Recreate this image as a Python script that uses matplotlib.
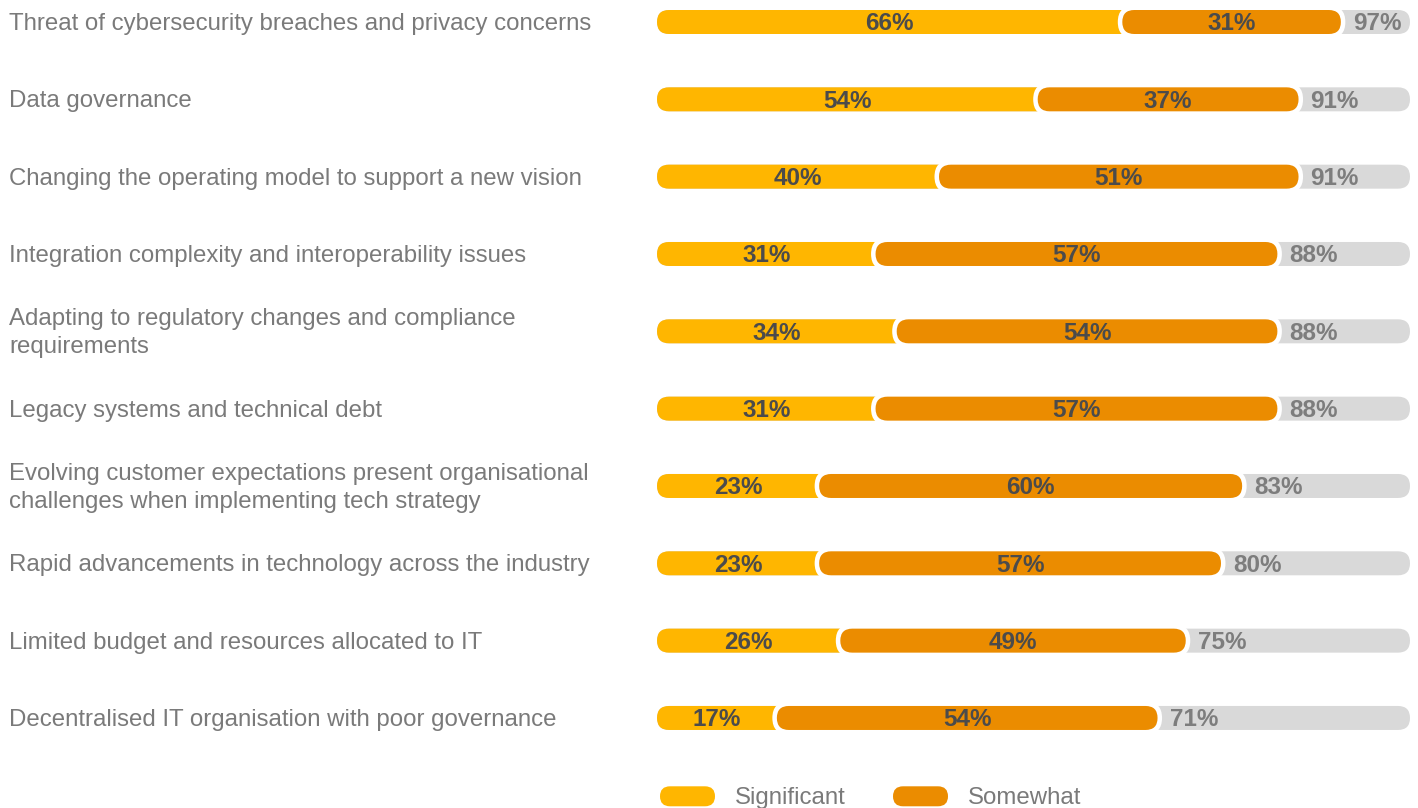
import matplotlib
matplotlib.use("Agg")
import matplotlib.pyplot as plt
from matplotlib.patches import FancyBboxPatch
from matplotlib.transforms import blended_transform_factory

plt.rcParams['font.family'] = ['Liberation Sans', 'DejaVu Sans']

challenges = [
    "Threat of cybersecurity breaches and privacy concerns",
    "Data governance",
    "Changing the operating model to support a new vision",
    "Integration complexity and interoperability issues",
    "Adapting to regulatory changes and compliance\nrequirements",
    "Legacy systems and technical debt",
    "Evolving customer expectations present organisational\nchallenges when implementing tech strategy",
    "Rapid advancements in technology across the industry",
    "Limited budget and resources allocated to IT",
    "Decentralised IT organisation with poor governance",
]
significant = [66, 54, 40, 31, 34, 31, 23, 23, 26, 17]
somewhat = [31, 37, 51, 57, 54, 57, 60, 57, 49, 54]
totals = [97, 91, 91, 88, 88, 88, 83, 80, 75, 71]

YELLOW = '#FFB600'
ORANGE = '#EB8C00'
GREY = '#D9D9D9'
DARK = '#4B4B4B'
MID = '#7D7D7D'
LABEL = '#7A7A7A'

W, H, DPI = 1418, 808, 100
fig = plt.figure(figsize=(W / DPI, H / DPI), dpi=DPI)

# bar area: 0% sits at x=657px, the grey track runs out to x=1410px
px_per_pct = 7.05
row_px = 77.33
x_left, x_right = 657, 1410
xmax = (x_right - x_left) / px_per_pct
ax = fig.add_axes([x_left / W, 0, (x_right - x_left) / W, 1])
ax.set_xlim(0, xmax)
ax.set_ylim((H - 22) / row_px, -22 / row_px)
ax.axis('off')

# keep the round caps circular even though x and y units differ
aspect = (1 / row_px) / (1 / px_per_pct)
bar_h = 24 / row_px
pad_x = 4.5 / px_per_pct
nudge = 2 / row_px   # text sits a touch low of the bar centre


def pill(x0, x1, y, h, color, z, extra=0.0):
    radius = h / aspect / 2 + extra
    p = FancyBboxPatch((x0 - extra, y - h / 2 - extra * aspect),
                       (x1 - x0) + 2 * extra, h + 2 * extra * aspect,
                       boxstyle=f"round,pad=0,rounding_size={radius}",
                       mutation_aspect=aspect, linewidth=0,
                       facecolor=color, zorder=z)
    ax.add_patch(p)


label_tf = blended_transform_factory(fig.transFigure, ax.transData)

for i, name in enumerate(challenges):
    sig, som, tot = significant[i], somewhat[i], totals[i]
    pill(0, xmax, i, bar_h, GREY, 1)
    pill(0, sig + 3, i, bar_h, YELLOW, 2)
    pill(sig, sig + som, i, bar_h, 'white', 3, extra=pad_x)
    pill(sig, sig + som, i, bar_h, ORANGE, 4)

    ty = i + nudge
    ax.text(sig / 2, ty, f"{sig}%", ha='center', va='center',
            fontsize=17.5, fontweight='bold', color=DARK, zorder=5)
    ax.text(sig + som / 2, ty, f"{som}%", ha='center', va='center',
            fontsize=17.5, fontweight='bold', color=DARK, zorder=5)
    ax.text(tot + 12 / px_per_pct, ty, f"{tot}%", ha='left', va='center',
            fontsize=17.5, fontweight='bold', color=MID, zorder=5)

    ax.text(9 / W, ty, name, transform=label_tf, ha='left', va='center',
            fontsize=17.3, color=LABEL, linespacing=1.35)

# legend row below the bars
legend_y = len(challenges) + 1 / row_px
legend_h = 20 / row_px
for (start, name, color) in [(660, "Significant", YELLOW), (893, "Somewhat", ORANGE)]:
    x0 = (start - x_left) / px_per_pct
    x1 = x0 + 55 / px_per_pct
    pill(x0, x1, legend_y, legend_h, color, 2)
    ax.text(x1 + 20 / px_per_pct, legend_y + nudge, name, ha='left', va='center',
            fontsize=17.3, color=LABEL)

fig.savefig('out.png', dpi=DPI)
